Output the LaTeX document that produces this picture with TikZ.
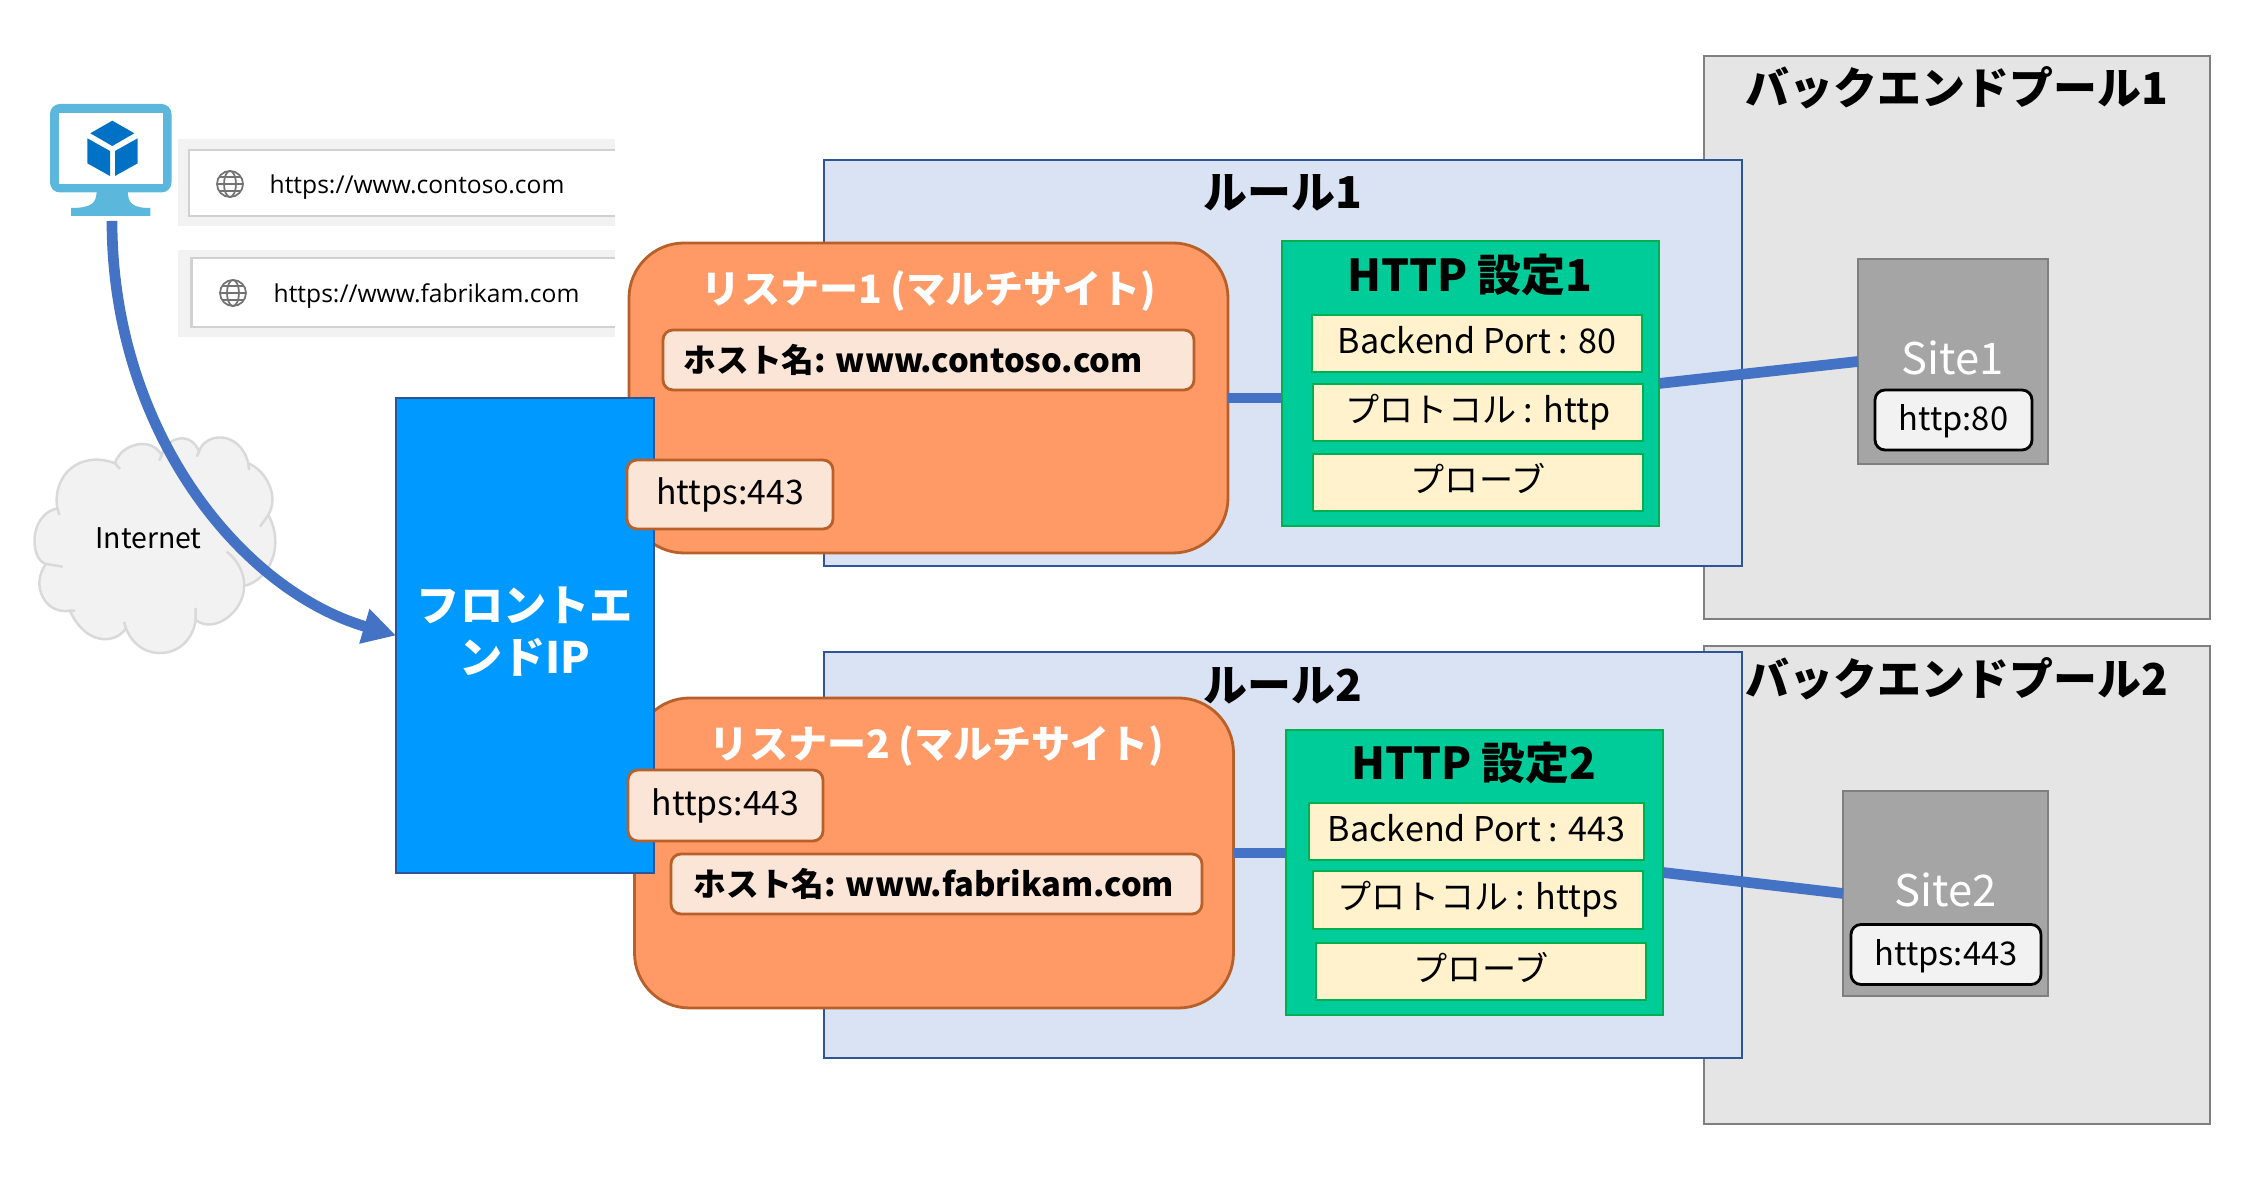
\documentclass[tikz,border=0pt]{standalone}
\usepackage{fontspec}
\setmainfont{Noto Sans CJK JP}
\newfontfamily\urlfont{Open Sans}
\usepackage{xcolor}
\usepackage{tikz}
\usetikzlibrary{positioning, arrows.meta}
\definecolor{poolfill}{HTML}{E5E5E5}
\definecolor{poolline}{HTML}{7F7F7F}
\definecolor{rulefill}{HTML}{DAE3F3}
\definecolor{ruleline}{HTML}{2F5597}
\definecolor{listfill}{HTML}{FF9966}
\definecolor{listline}{HTML}{B8602A}
\definecolor{palefill}{HTML}{FBE5D6}
\definecolor{httpfill}{HTML}{00CC99}
\definecolor{httpline}{HTML}{00B050}
\definecolor{itemfill}{HTML}{FFF2CC}
\definecolor{frontfill}{HTML}{0099FF}
\definecolor{sitefill}{HTML}{A5A5A5}
\definecolor{flowline}{HTML}{4472C4}
\definecolor{screenblue}{HTML}{5BB8DC}
\definecolor{cubeblue}{HTML}{0072C6}

\begin{document}
\begin{tikzpicture}[x=0.1mm,y=-0.1mm]
	\tikzstyle{box}=[inner sep=0pt,outer sep=0pt,line width=0.8pt]
	\tikzstyle{pool}=[box,draw=poolline,fill=poolfill,minimum width=50.6mm]
	\tikzstyle{rulebox}=[box,draw=ruleline,fill=rulefill,minimum width=91.8mm,minimum height=40.6mm]
	\tikzstyle{listener}=[box,draw=listline,fill=listfill,rounded corners=5.5mm,minimum width=59.9mm,minimum height=31mm]
	\tikzstyle{pale}=[box,draw=listline,fill=palefill,rounded corners=1mm,font=\fontsize{9.6}{11}\selectfont]
	\tikzstyle{hostname}=[pale,minimum width=53.1mm,minimum height=6mm]
	\tikzstyle{hosttext}=[inner sep=0pt,anchor=west,font=\fontsize{9.3}{11}\selectfont\bfseries]
	\tikzstyle{httpbox}=[box,draw=httpline,fill=httpfill,minimum width=37.7mm,minimum height=28.5mm]
	\tikzstyle{item}=[box,draw=httpline,fill=itemfill,minimum width=33mm,minimum height=5.7mm,text height=3mm,text depth=1mm,font=\fontsize{9.7}{11}\selectfont]
	\tikzstyle{site}=[box,draw=poolline,fill=sitefill,minimum height=20.5mm]
	\tikzstyle{sitetag}=[box,draw=black,fill=black!5,rounded corners=1mm,minimum height=6mm,text height=3.2mm,text depth=1mm,font=\fontsize{9.3}{11}\selectfont]
	\tikzstyle{title}=[inner sep=0pt,font=\fontsize{12.5}{15}\selectfont\bfseries]
	\tikzstyle{whitetitle}=[inner sep=0pt,text=white,font=\fontsize{11.1}{14}\selectfont\bfseries]
	\tikzstyle{sitename}=[inner sep=0pt,text=white,font=\fontsize{12.4}{14}\selectfont]
	\tikzstyle{urlpanel}=[inner sep=0pt,outer sep=0pt,fill=black!5,minimum width=43.7mm,minimum height=8.7mm]
	\tikzstyle{urltext}=[inner sep=0pt,font=\fontsize{7}{10}\urlfont\selectfont]
	\tikzstyle{globe}=[line width=0.5pt,draw=black!55]
	\tikzstyle{flow}=[draw=flowline,line width=1.07mm]
	\useasboundingbox (0,0) rectangle (2260,1178);

	\node[pool,minimum height=56.3mm](pool1) at (1957,337.5) {};
	\node[pool,minimum height=47.8mm](pool2) at (1957,885) {};
	\node[title](pool1title) at (1957,88) {バックエンドプール1};
	\node[title](pool2title) at (1957,679) {バックエンドプール2};

	\node[rulebox](rule1) at (1283,363) {};
	\node[rulebox](rule2) at (1283,855) {};
	\node[title](rule1title) at (1283,193) {ルール1};

	\node[listener](listener1) at (928.5,398) {};
	\node[listener](listener2) at (934,853) {};
	\node[title](rule2title) at (1283,686) {ルール2};
	\node[whitetitle](listener1title) at (929,291) {リスナー1 (マルチサイト)};
	\node[whitetitle](listener2title) at (937,746) {リスナー2 (マルチサイト)};
	\node[hostname](host1) at (928.5,360) {};
	\node[hostname](host2) at (936.5,884) {};
	\node[hosttext](host1text) at (683,360) {ホスト名: www.contoso.com};
	\node[hosttext](host2text) at (693,884) {ホスト名: www.fabrikam.com};

	\node[box,draw=ruleline,fill=frontfill,minimum width=25.8mm,minimum height=47.5mm](frontend) at (525,635.5) {};
	\node[inner sep=0pt,text=white,align=center,font=\fontsize{12.3}{14.8}\selectfont\bfseries](frontendtitle) at (525,632) {フロントエ\\ンドIP};
	\node[pale,minimum width=20.6mm,minimum height=6.9mm](https1) at (730,494.5) {https:443};
	\node[pale,minimum width=19.5mm,minimum height=7.1mm](https2) at (725.5,805.5) {https:443};

	\node[httpbox](http1) at (1470.5,383.5) {};
	\node[httpbox](http2) at (1474.5,872.5) {};
	\node[title](http1title) at (1470,275) {HTTP 設定1};
	\node[title](http2title) at (1474,763) {HTTP 設定2};
	\node[item](item1a) at (1477,343.5) {Backend Port : 80};
	\node[item](item1b) at (1478,412.5) {プロトコル : http};
	\node[item](item1c) at (1478,482.5) {プローブ};
	\node[item,minimum width=33.5mm](item2a) at (1476.5,831.5) {Backend Port : 443};
	\node[item,minimum height=5.8mm](item2b) at (1478,900) {プロトコル : https};
	\node[item](item2c) at (1481,971.5) {プローブ};

	\node[site,minimum width=19mm](site1) at (1953,361.5) {};
	\node[site,minimum width=20.5mm](site2) at (1945.5,893.5) {};
	\node[sitename](site1name) at (1953,358) {Site1};
	\node[sitename](site2name) at (1946,890) {Site2};
	\node[sitetag,minimum width=15.7mm](tag1) at (1953.5,420) {http:80};
	\node[sitetag,minimum width=19mm](tag2) at (1946,954.5) {https:443};

	\draw[flow](listener1.east) -- (listener1.east -| http1.west);
	\draw[flow](listener2.east) -- (listener2.east -| http2.west);
	\draw[flow](http1.east) -- (site1.west);
	\draw[flow](http2.east) -- (site2.west);

	\node[urlpanel](panel1) at (396.5,182.5) {};
	\node[urlpanel](panel2) at (396.5,294) {};
	\fill[white] (189,150) rectangle (615,216);
	\fill[white] (191.5,258) rectangle (615,327);
	\draw[line width=0.8pt,draw=black!18] (615,150) -| (189,216) -- (615,216);
	\draw[line width=0.8pt,draw=black!18] (615,258) -| (191.5,327) -- (615,327);
	\draw[globe] (230,184) circle (13);
	\draw[globe] (230,184) ellipse (6 and 13);
	\draw[globe] (217,184) -- (243,184) (219,177) -- (241,177) (219,191) -- (241,191);
	\draw[globe] (233,293) circle (13);
	\draw[globe] (233,293) ellipse (6 and 13);
	\draw[globe] (220,293) -- (246,293) (222,286) -- (244,286) (222,300) -- (244,300);
	\node[urltext,anchor=west](url1) at (269,187) {https://www.contoso.com};
	\node[urltext,anchor=west](url2) at (273,296) {https://www.fabrikam.com};

	\fill[screenblue,rounded corners=1mm] (50,104) rectangle (171.5,192.5);
	\fill[white] (59.3,113.3) rectangle (162.7,184);
	\fill[screenblue] (96.7,190) .. controls (96.7,203) and (92,208) .. (71,208) -- (71,216) -- (150.3,216) -- (150.3,208) .. controls (132,208) and (127.7,203) .. (127.7,190) -- cycle;
	\fill[cubeblue] (112.3,120.7) -- (134.3,133.3) -- (112.3,146) -- (90.3,133.3) -- cycle;
	\fill[cubeblue] (87.3,138.3) -- (110,151) -- (110,176) -- (87.3,163.3) -- cycle;
	\fill[cubeblue] (115,151) -- (137.7,138.3) -- (137.7,163.3) -- (115,176) -- cycle;

	\draw[draw=black!15,fill=black!5,line width=0.7pt] (46,564) .. controls (30,560) and (28,515) .. (57.3,508.3)
		.. controls (52,475) and (80,450) .. (115,463.3)
		.. controls (120,445) and (150,435) .. (161.7,455)
		.. controls (168,435) and (192,432) .. (199,451.7)
		.. controls (205,432) and (240,430) .. (248.3,463.3)
		.. controls (265,470) and (280,495) .. (268.3,515)
		.. controls (285,545) and (270,580) .. (244,586)
		.. controls (245,610) and (215,635) .. (195.7,620)
		.. controls (190,660) and (140,665) .. (126,628.3)
		.. controls (115,645) and (85,645) .. (70,610.7)
		.. controls (45,615) and (30,585) .. (46,564) -- cycle;
	\draw[draw=black!15,line width=0.7pt] (46,564) -- (62.7,566.7) (57.3,508.3) -- (59.3,515) (115,463.3) -- (120,469) (161.7,455) -- (159.3,460.7) (199,451.7) -- (196.7,456.7) (248.3,463.3) -- (249,470) (268.3,515) -- (260,526.7) (195.7,620) -- (195.7,608) (126,628.3) -- (124,621.7) (70,610.7) -- (75,610.7);
	\draw[draw=black!15,line width=0.7pt] (226.7,551.7) .. controls (238,560) and (245,575) .. (244,586);
	\node[inner sep=0pt,font=\fontsize{8.1}{10}\selectfont](internet) at (148.5,538) {Internet};

	\coordinate (vm) at (112,221);
	\draw[flow,-{Triangle[length=3.3mm,width=3.4mm]}](vm) .. controls (112,430) and (240,590) .. (frontend.west);
\end{tikzpicture}
\end{document}
